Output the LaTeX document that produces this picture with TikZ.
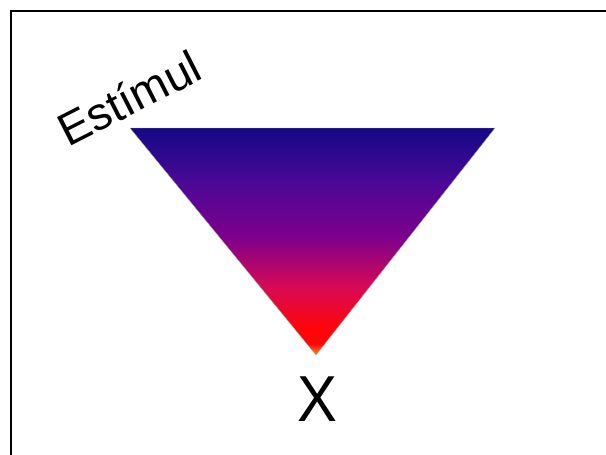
\documentclass[tikz,border=0pt]{standalone}
\usepackage{fontspec}
\setmainfont{Liberation Sans}
\definecolor{cOr}{RGB}{255,140,20}
\definecolor{cRd}{RGB}{255,5,10}
\definecolor{cCr}{RGB}{215,10,85}
\definecolor{cPu}{RGB}{125,0,140}
\definecolor{cVi}{RGB}{75,8,150}
\definecolor{cNv}{RGB}{20,8,135}
\pgfdeclareverticalshading{trishade}{100bp}{
  color(0bp)=(cOr);
  color(25bp)=(cOr);
  color(27.5bp)=(cRd);
  color(31bp)=(cRd);
  color(40bp)=(cCr);
  color(51bp)=(cPu);
  color(63bp)=(cVi);
  color(75bp)=(cNv);
  color(100bp)=(cNv)}
\begin{document}
\begin{tikzpicture}[x=1pt,y=-1pt,
  lbl/.style={inner sep=0pt,font=\fontsize{46}{46}\selectfont},
  bigx/.style={inner sep=0pt,font=\fontsize{65}{65}\selectfont,xscale=0.92}]
\useasboundingbox (0,0) rectangle (606,455);
\draw[line width=2.4pt] (11,460) -- (11,11) -- (610,11);
\coordinate (tl) at (130,128);
\coordinate (tr) at (495,128);
\coordinate (bt) at (316,355);
\shade[shading=trishade,draw=gray!70,line width=0.4pt] (tl) -- (tr) -- (bt) -- cycle;
\node[lbl,rotate=27] (stim) at (129,98) {Estímul};
\node[bigx] (x) at (317,399) {X};
\end{tikzpicture}
\end{document}
